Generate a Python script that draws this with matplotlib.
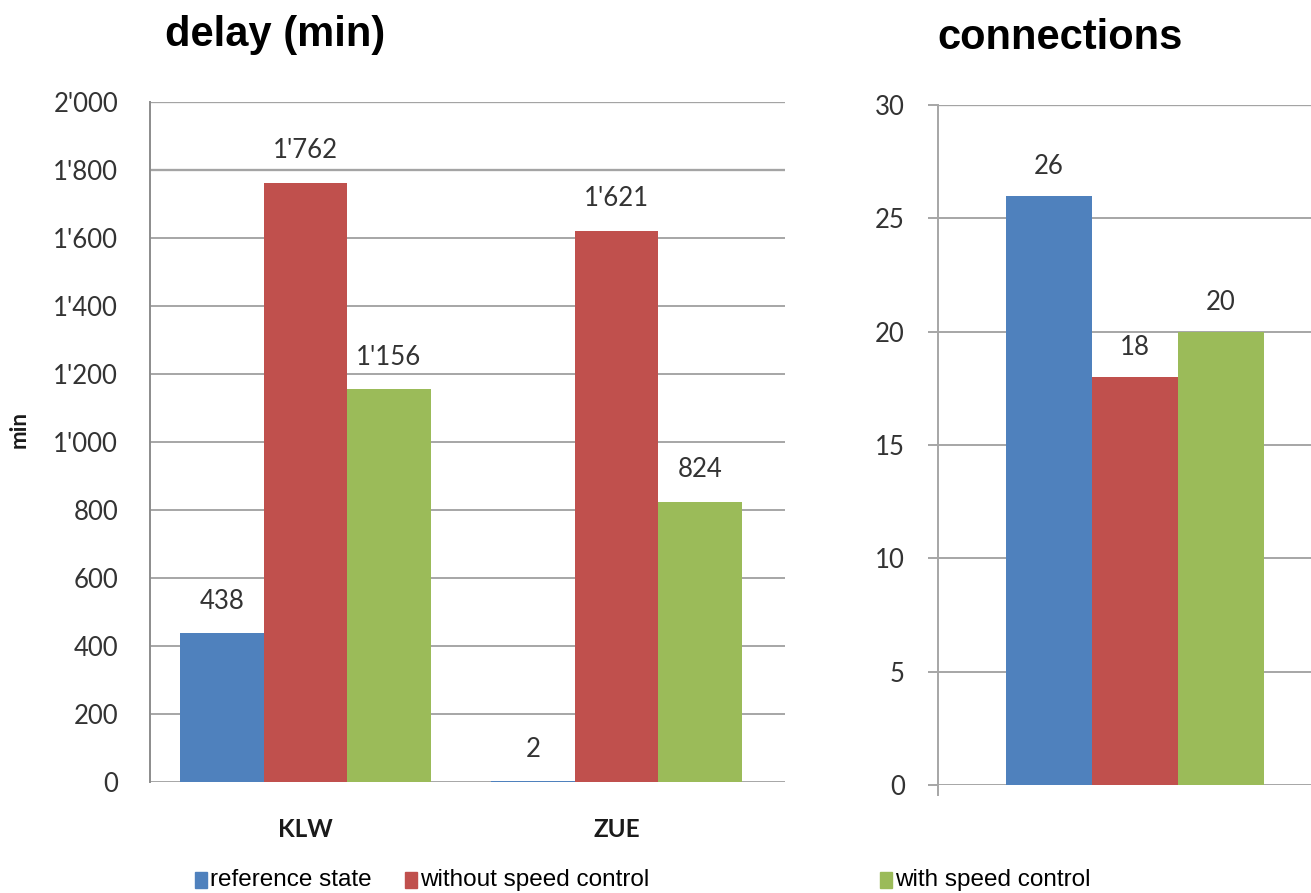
import matplotlib
matplotlib.use("Agg")
import matplotlib.pyplot as plt
from matplotlib.patches import Rectangle
from matplotlib.ticker import FuncFormatter, MultipleLocator
import numpy as np

# ---- data ----
series = ["reference state", "without speed control", "with speed control"]
colors = ["#4F81BD", "#C0504D", "#9BBB59"]
stations = ["KLW", "ZUE"]
delay_reference = [438, 2]
delay_without = [1762, 1621]
delay_with = [1156, 824]
connections = [26, 18, 20]

W, H = 1311, 893
fig = plt.figure(figsize=(W / 100, H / 100), dpi=100)

TICK_FONT = ["Lato", "DejaVu Sans"]
TXT = "#333333"
NUM_SIZE = 18.5


def fx(px):
    return px / W


def fy(py):
    return 1 - py / H


def swiss(v, _pos=None):
    return f"{v:,.0f}".replace(",", "'")


# ---- left panel: delay ----
ax1 = fig.add_axes([fx(150), fy(782), fx(785) - fx(150), fy(102) - fy(782)])
w1 = 0.2685
x1 = np.arange(len(stations))
delay_series = [delay_reference, delay_without, delay_with]
for i, (vals, c) in enumerate(zip(delay_series, colors)):
    bars = ax1.bar(x1 + (i - 1) * w1, vals, width=w1, color=c, zorder=3)
    for b, v in zip(bars, vals):
        ax1.annotate(swiss(v), (b.get_x() + b.get_width() / 2, v),
                     xytext=(0, 23), textcoords="offset points",
                     ha="center", va="center", fontsize=NUM_SIZE,
                     family=TICK_FONT, color=TXT)
ax1.set_xlim(-0.5, 1.542)
ax1.set_ylim(0, 2000)
ax1.yaxis.set_major_locator(MultipleLocator(200))
ax1.yaxis.set_major_formatter(FuncFormatter(swiss))
ax1.grid(axis="y", color="#a6a6a6", linewidth=1.4, zorder=0)
for s in ["top", "right", "bottom"]:
    ax1.spines[s].set_visible(False)
ax1.spines["left"].set_color("#8c8c8c")
ax1.spines["left"].set_linewidth(1.4)
ax1.axhline(2000, color="#7f7f7f", linewidth=1.6, zorder=1)
ax1.axhline(1800, color="#7f7f7f", linewidth=1.6, zorder=1)
ax1.tick_params(axis="y", length=0, pad=23, labelsize=NUM_SIZE, labelcolor=TXT)
ax1.tick_params(axis="x", length=0, pad=26)
ax1.set_xticks(x1)
ax1.set_xticklabels(stations, fontsize=17.5, fontweight="bold",
                    family=TICK_FONT, color="#1a1a1a")
for lab in ax1.get_yticklabels():
    lab.set_family(TICK_FONT)
fig.text(fx(19), fy(430), "min", rotation=90, ha="center", va="center",
         fontsize=16, fontweight="bold", family=TICK_FONT, color="#1a1a1a")
fig.text(fx(275), fy(35), "delay (min)", ha="center", va="center",
         fontsize=30, fontweight="bold", family=["Liberation Sans", "DejaVu Sans"])

# ---- right panel: connections ----
ax2 = fig.add_axes([fx(938), fy(785), 1 - fx(938), fy(105) - fy(785)])
x2 = np.arange(len(connections)) - 1
bars = ax2.bar(x2, connections, width=1.0, color=colors, zorder=3)
for b, v in zip(bars, connections):
    ax2.annotate(f"{v}", (b.get_x() + b.get_width() / 2, v),
                 xytext=(0, 21), textcoords="offset points",
                 ha="center", va="center", fontsize=NUM_SIZE,
                 family=TICK_FONT, color=TXT)
ax2.set_xlim(-2.29, 2.05)
ax2.set_ylim(0, 30)
ax2.yaxis.set_major_locator(MultipleLocator(5))
ax2.grid(axis="y", color="#a6a6a6", linewidth=1.4, zorder=0)
for s in ["top", "right", "bottom"]:
    ax2.spines[s].set_visible(False)
ax2.spines["left"].set_color("#a6a6a6")
ax2.spines["left"].set_linewidth(1.4)
ax2.spines["left"].set_bounds(-0.45, 30)
ax2.axhline(30, color="#7f7f7f", linewidth=1.6, zorder=1)
ax2.tick_params(axis="y", length=7, width=1.4, color="#a6a6a6", pad=17,
                labelsize=NUM_SIZE, labelcolor=TXT)
ax2.set_xticks([])
for lab in ax2.get_yticklabels():
    lab.set_family(TICK_FONT)
fig.text(fx(1060), fy(38), "connections", ha="center", va="center",
         fontsize=30, fontweight="bold", family=["Liberation Sans", "DejaVu Sans"])

# ---- legend ----
LEG_FONT = ["Liberation Sans", "DejaVu Sans"]
legend_x = [195, 405, 880]
for name, c, px in zip(series, colors, legend_x):
    fig.add_artist(Rectangle((fx(px), fy(888)), fx(12), 16 / H,
                             transform=fig.transFigure, color=c))
    fig.text(fx(px + 15), fy(880), name, ha="left", va="center",
             fontsize=17.5, family=LEG_FONT, color="#000000")

fig.savefig("out.png", dpi=100)
